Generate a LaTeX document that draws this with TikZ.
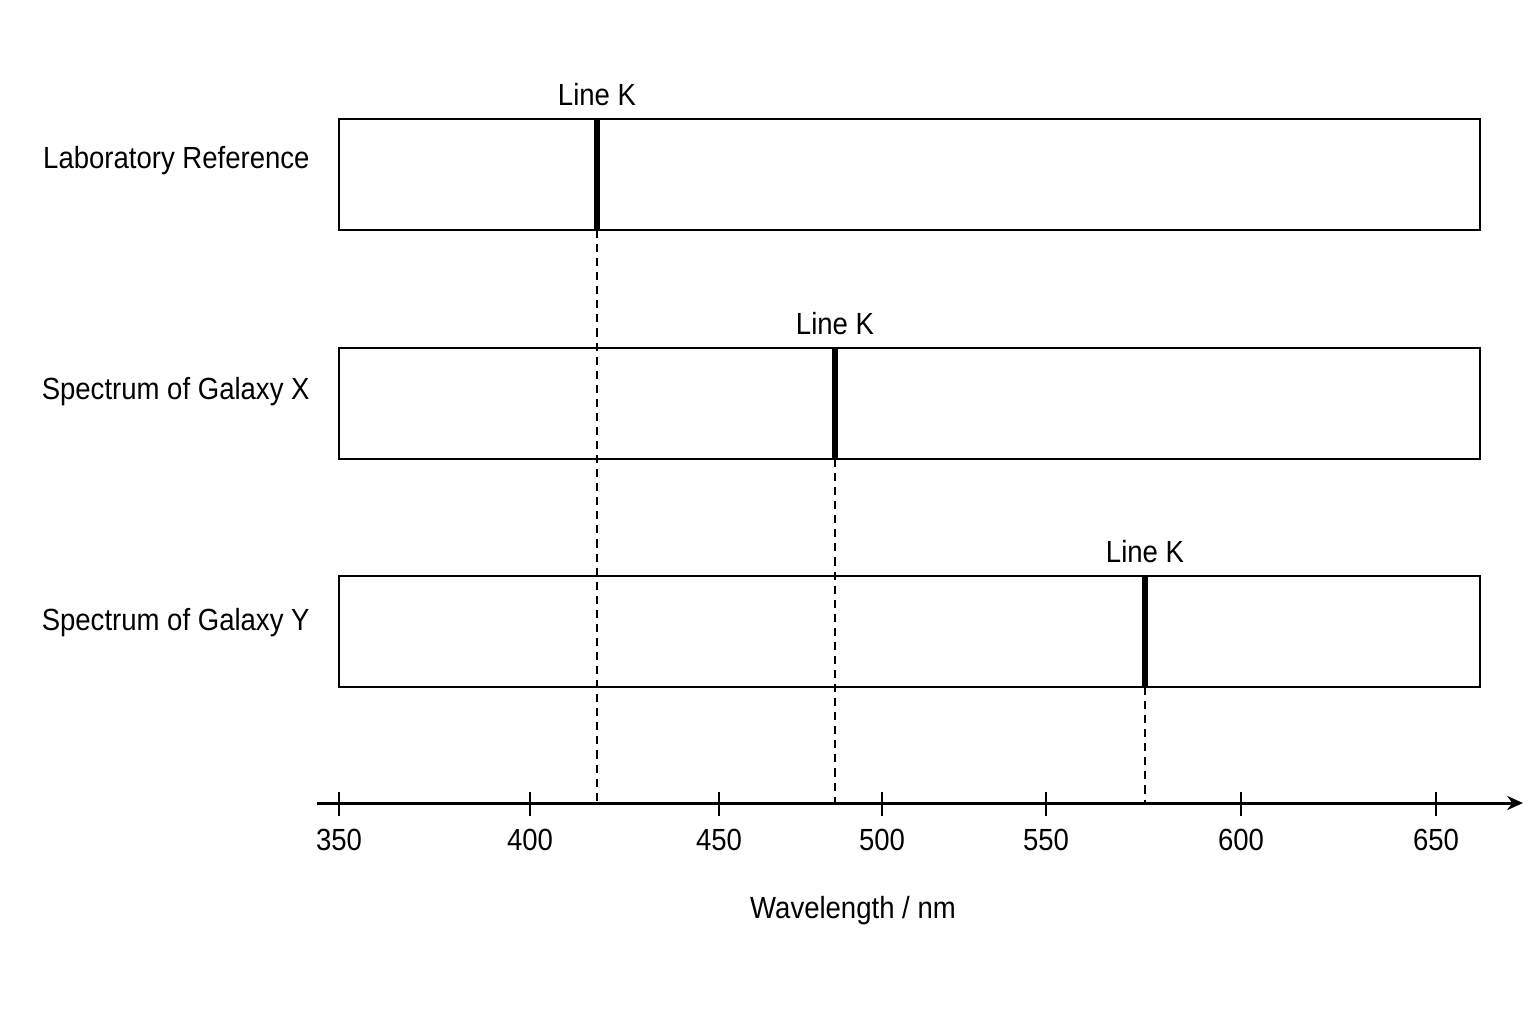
\documentclass[tikz,border=0pt]{standalone}
\usepackage{fontspec}
\setmainfont{Liberation Sans}[FakeStretch=0.9]
\usetikzlibrary{arrows.meta}
\begin{document}
\begin{tikzpicture}[x=0.01cm,y=-0.01cm,font=\fontsize{8.7}{10}\selectfont]
        \useasboundingbox (0,0) rectangle (1536,1024);
        % spectra
        \foreach \y/\ty/\lx/\name/\txt in {119/161/597/lab/Laboratory Reference, 348/392/835/galx/Spectrum of Galaxy X, 576/623/1145/galy/Spectrum of Galaxy Y} {
            \draw [line width=0.8pt] (339,\y) rectangle (1480,\y+111);
            \draw [line width=1.5pt] (\lx,\y) -- (\lx,\y+111);
            \node (line\name) at (\lx,\y-24) {Line K};
            \node [anchor=east] (\name) at (322,\ty) {\txt};
        }
        % dashed guides
        \draw [dashed, dash pattern=on 2.3pt off 1.7pt, line width=0.45pt] (597,230) -- (597,803);
        \draw [dashed, dash pattern=on 2.3pt off 1.7pt, line width=0.45pt] (835,459) -- (835,803);
        \draw [dashed, dash pattern=on 2.3pt off 1.7pt, line width=0.45pt] (1145,687) -- (1145,803);
        % axis
        \draw [line width=0.85pt, -{Stealth[length=4.5pt,width=4pt]}] (317,803) -- (1523,803);
        \foreach \x/\v in {339/350, 530/400, 719/450, 882/500, 1046/550, 1241/600, 1436/650} {
            \draw [line width=0.8pt] (\x,792) -- (\x,816);
            \node (tick\v) at (\x,840) {\v};
        }
        \node (xlabel) at (853,911) {Wavelength / nm};
\end{tikzpicture}
\end{document}
